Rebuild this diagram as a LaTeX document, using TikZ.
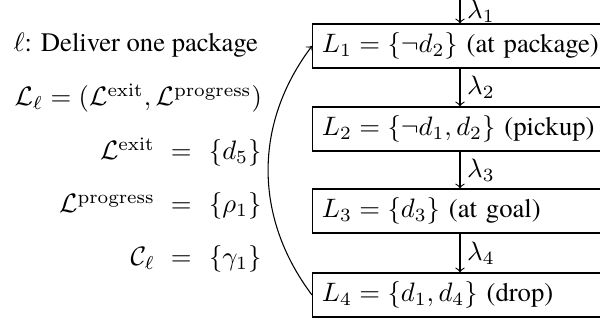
\documentclass[tikz,border=0pt]{standalone}
\usepackage[no-math]{fontspec}
\setmainfont{texgyretermes-regular.otf}
\begin{document}
\begin{tikzpicture}[x=0.375pt,y=-0.375pt,
  lbox/.style={draw, anchor=west, text width=112pt, align=left, minimum height=16.5pt, inner xsep=3.5pt, inner ysep=0pt},
  lab/.style={right, inner sep=2.5pt},
  txt/.style={inner sep=0pt}]
\path[use as bounding box] (0,0) rectangle (600,320);
\clip (0,0) rectangle (600,320);
\coordinate (top) at (460,0);
\node[lbox] (L1) at (312,46) {$L_1 = \{\neg d_2\}$ (at package)};
\node[lbox] (L2) at (312,129) {$L_2 = \{\neg d_1, d_2\}$ (pickup)};
\node[lbox] (L3) at (312,211) {$L_3 = \{d_3\}$ (at goal)};
\node[lbox] (L4) at (312,295) {$L_4 = \{d_1, d_4\}$ (drop)};
\draw[->] (top) -- node[lab] {$\lambda_1$} (L1.north -| top);
\draw[->] (L1.south -| top) -- node[lab] {$\lambda_2$} (L2.north -| top);
\draw[->] (L2.south -| top) -- node[lab] {$\lambda_3$} (L3.north -| top);
\draw[->] (L3.south -| top) -- node[lab] {$\lambda_4$} (L4.north -| top);
\draw[->] (L4.west) to[bend left=37] (L1.west);
\node[txt, anchor=base west] (t1) at (13,52) {$\ell$: Deliver one package};
\node[txt, anchor=base west] (t2) at (14,106) {$\mathcal{L}_\ell = (\mathcal{L}^{\mathrm{exit}}, \mathcal{L}^{\mathrm{progress}})$};
\node[txt, anchor=base east] (e1) at (262,160) {$\mathcal{L}^{\mathrm{exit}}$\hspace{6pt}$=$\hspace{6.5pt}$\{d_5\}$};
\node[txt, anchor=base east] (e2) at (262,213) {$\mathcal{L}^{\mathrm{progress}}$\hspace{6pt}$=$\hspace{6.5pt}$\{\rho_1\}$};
\node[txt, anchor=base east] (e3) at (262,266) {$\mathcal{C}_\ell$\hspace{6pt}$=$\hspace{6.5pt}$\{\gamma_1\}$};
\end{tikzpicture}
\end{document}
